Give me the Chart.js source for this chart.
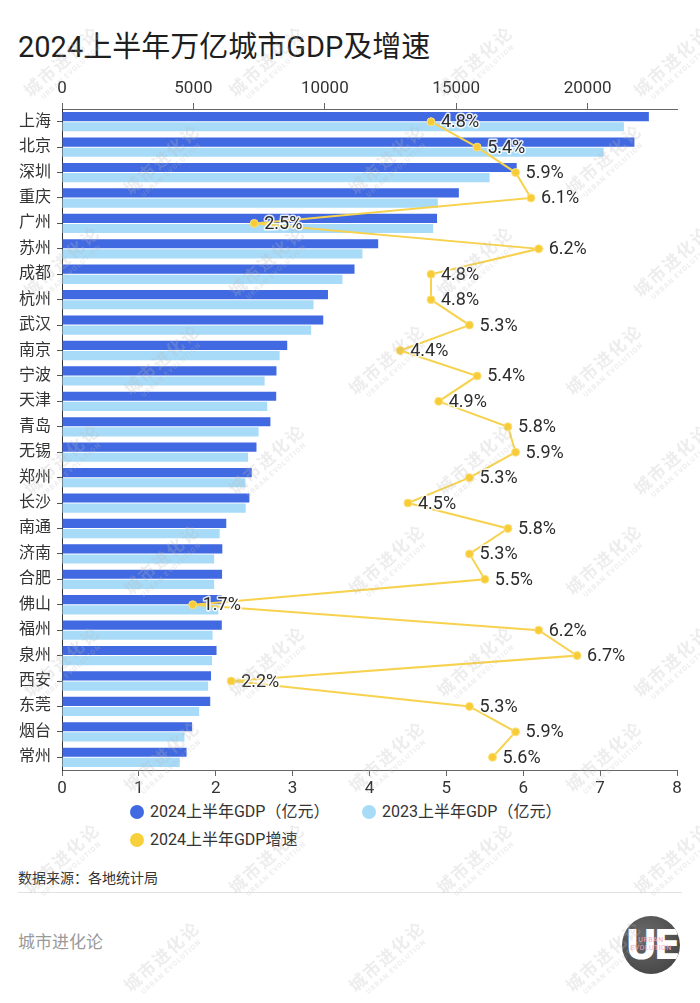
<!DOCTYPE html>
<html><head><meta charset="utf-8">
<script src="https://cdn.jsdelivr.net/npm/chart.js@4.4.1/dist/chart.umd.min.js"></script>
<style>
html,body{margin:0;padding:0;background:#fff;}
body{width:700px;height:1003px;overflow:hidden;position:relative;font-family:Roboto,"Noto Sans CJK SC",sans-serif;color:#222;}
#title{position:absolute;left:18px;top:27px;font-size:29px;line-height:40px;color:#1e1e1e;font-family:Roboto,"Noto Sans CJK SC",sans-serif;white-space:nowrap;}
#wrap{position:absolute;left:0;top:0;width:700px;height:800px;}
.leg{position:absolute;font-size:16px;line-height:20px;color:#333;white-space:nowrap;}
.leg i{position:absolute;left:-20px;top:3px;width:14px;height:14px;border-radius:50%;}
#src{position:absolute;left:18px;top:868px;font-size:14px;line-height:20px;color:#333;}
#sep{position:absolute;left:18px;top:892px;width:664px;height:1px;background:#e2e2e2;}
#brand{position:absolute;left:18px;top:930px;font-size:17px;line-height:24px;color:#9a9a9a;}
#logo{position:absolute;left:622px;top:916px;width:58px;height:58px;border-radius:50%;background:radial-gradient(circle at 40% 35%,#6a6a6a,#3e3e3e);overflow:hidden;}
#logo .ue{position:absolute;left:0;top:6px;width:58px;text-align:center;font-size:40px;line-height:46px;font-weight:700;color:#fff;letter-spacing:-4px;font-family:"DejaVu Sans",sans-serif;}
#logo .ub{position:absolute;left:0;top:20px;width:58px;text-align:center;font-size:7px;line-height:8px;color:#f3a9c6;letter-spacing:0.5px;}
#wm{position:absolute;left:0;top:0;width:700px;height:1003px;pointer-events:none;}
.w{position:absolute;transform:translate(-50%,-50%) rotate(-42deg);text-align:center;color:rgba(185,185,185,0.26);white-space:nowrap;}
.w b{display:block;font-size:17px;line-height:19px;font-weight:700;letter-spacing:2px;}
.w s{display:block;text-decoration:none;font-size:7px;line-height:8px;letter-spacing:1px;font-weight:700;}
</style></head><body>
<div id="title">2024上半年万亿城市GDP及增速</div>
<div id="wrap"><canvas id="c" width="700" height="800"></canvas></div>
<div class="leg" style="left:150px;top:802px;"><i style="background:#4169E1"></i>2024上半年GDP（亿元）</div>
<div class="leg" style="left:382px;top:802px;"><i style="background:#A7DBF8"></i>2023上半年GDP（亿元）</div>
<div class="leg" style="left:150px;top:830px;"><i style="background:#F8D03C"></i>2024上半年GDP增速</div>
<div id="src">数据来源：各地统计局</div>
<div id="sep"></div>
<div id="brand">城市进化论</div>
<div id="logo"><div class="ue">UE</div><div class="ub">URBAN<br>EVOLUTION</div></div>
<div id="wm"></div>
<script>
// ---- data ----
const cities = ["上海","北京","深圳","重庆","广州","苏州","成都","杭州","武汉","南京","宁波","天津","青岛","无锡","郑州","长沙","南通","济南","合肥","佛山","福州","泉州","西安","东莞","烟台","常州"];
const gdp2024 = [22330,21780,17300,15100,14270,12030,11130,10120,9940,8570,8160,8150,7930,7400,7220,7130,6250,6100,6090,6080,6080,5880,5670,5640,4950,4740];
const gdp2023 = [21380,20610,16270,14300,14120,11430,10670,9570,9480,8280,7710,7810,7480,7080,6980,6990,6000,5790,5790,5950,5730,5710,5560,5220,4660,4480];
const growth2024 = [4.8,5.4,5.9,6.1,2.5,6.2,4.8,4.8,5.3,4.4,5.4,4.9,5.8,5.9,5.3,4.5,5.8,5.3,5.5,1.7,6.2,6.7,2.2,5.3,5.9,5.6];
const gdpTicks = [0,5000,10000,15000,20000];
const growthTicks = [0,1,2,3,4,5,6,7,8];

// ---- watermarks ----
const wm = document.getElementById('wm');
const rowsEven = [163,363,563,760,960], colsEven = [165,390,607];
const rowsOdd = [65,265,463,665,862], colsOdd = [65,270,478,675];
function addW(x,y){const d=document.createElement('div');d.className='w';d.style.left=x+'px';d.style.top=y+'px';d.innerHTML='<b>城市进化论</b><s>URBAN EVOLUTION</s>';wm.appendChild(d);}
rowsEven.forEach(y=>colsEven.forEach(x=>addW(x,y)));
rowsOdd.forEach(y=>colsOdd.forEach(x=>addW(x,y)));

// ---- chart ----
const FONT = 'Roboto, "Noto Sans CJK SC", sans-serif';
Chart.defaults.font.family = FONT;
const pctLabels = {
  id:'pctLabels',
  afterDatasetsDraw(chart){
    const meta = chart.getDatasetMeta(0);
    const ctx = chart.ctx;
    ctx.save();
    ctx.font = '18px ' + FONT;
    ctx.textBaseline = 'middle';
    ctx.textAlign = 'left';
    ctx.lineJoin = 'round';
    meta.data.forEach((pt,i)=>{
      const t = growth2024[i].toFixed(1) + '%';
      ctx.strokeStyle = 'rgba(255,255,255,0.85)';
      ctx.lineWidth = 3;
      ctx.strokeText(t, pt.x + 10, pt.y + 1);
      ctx.fillStyle = '#2b2b2b';
      ctx.fillText(t, pt.x + 10, pt.y + 1);
    });
    ctx.restore();
  }
};
new Chart(document.getElementById('c'), {
  type:'bar',
  data:{
    labels: cities,
    datasets:[
      {type:'line', label:'2024上半年GDP增速', data:growth2024, indexAxis:'y', xAxisID:'x2', yAxisID:'y',
       borderColor:'#F7D24E', borderWidth:2, pointRadius:4, pointBackgroundColor:'#F8CC36', pointBorderColor:'#FBE07E',
       pointBorderWidth:1, tension:0, fill:false, order:0},
      {label:'2024上半年GDP（亿元）', data:gdp2024, xAxisID:'x', yAxisID:'y', backgroundColor:'#4169E1',
       categoryPercentage:0.8, barPercentage:0.9, order:1},
      {label:'2023上半年GDP（亿元）', data:gdp2023, xAxisID:'x', yAxisID:'y', backgroundColor:'#A7DBF8',
       categoryPercentage:0.8, barPercentage:0.9, order:1}
    ]
  },
  options:{
    indexAxis:'y',
    responsive:false,
    animation:false,
    layout:{padding:{top:69,right:23,bottom:0,left:0}},
    plugins:{legend:{display:false},tooltip:{enabled:false}},
    scales:{
      x:{type:'linear', position:'top', min:0, max:23400,
         afterFit(s){s.height=40;},
         afterBuildTicks(s){s.ticks = gdpTicks.map(v=>({value:v}));},
         ticks:{color:'#333', font:{size:17}, padding:4, maxRotation:0, callback:v=>String(v)},
         grid:{drawOnChartArea:false, drawTicks:true, tickLength:6, color:'#666'},
         border:{display:true, color:'#666', width:1}},
      x2:{type:'linear', position:'bottom', min:0, max:8,
         afterFit(s){s.height=30;},
         afterBuildTicks(s){s.ticks = growthTicks.map(v=>({value:v}));},
         ticks:{color:'#333', font:{size:17}, padding:3, maxRotation:0},
         grid:{drawOnChartArea:false, drawTicks:true, tickLength:6, color:'#666'},
         border:{display:true, color:'#666', width:1}},
      y:{type:'category', position:'left', offset:true,
         afterFit(s){s.width=62;},
         ticks:{color:'#333', font:{size:16}, padding:6, autoSkip:false},
         grid:{offset:false, drawOnChartArea:false, drawTicks:true, tickLength:5, color:'#555'},
         border:{display:true, color:'#333', width:1}}
    }
  },
  plugins:[pctLabels]
});
</script>
</body></html>
